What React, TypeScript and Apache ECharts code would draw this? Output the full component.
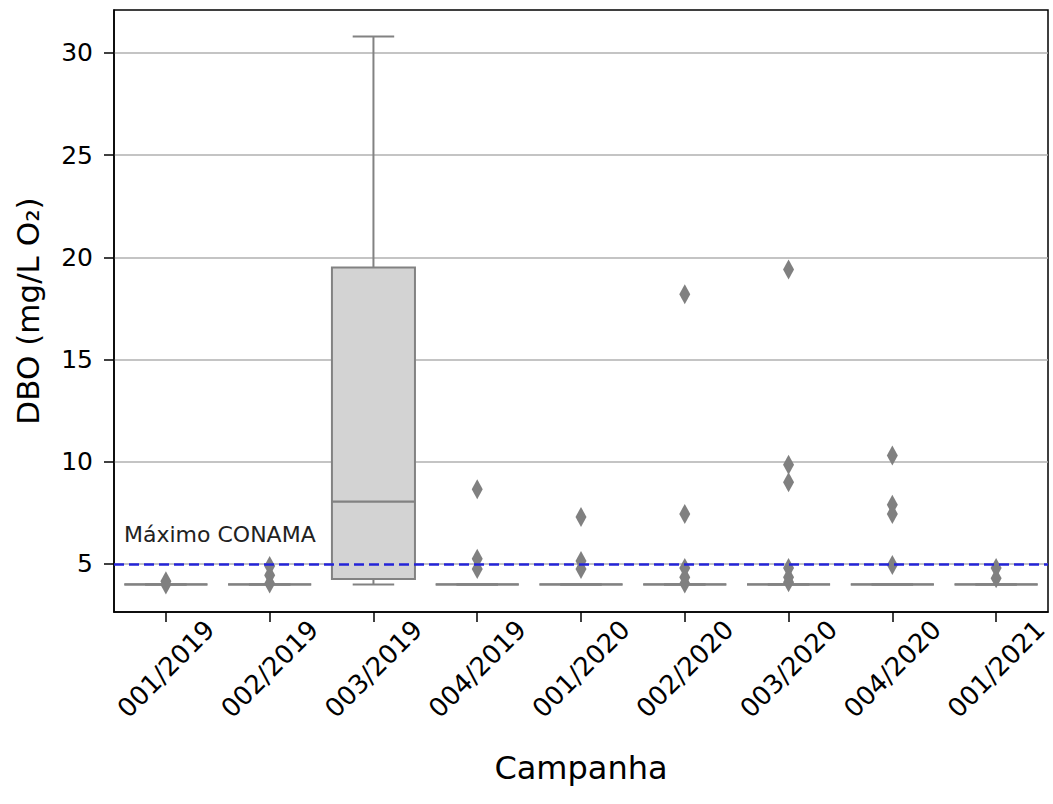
import React, { useEffect, useRef } from 'react';
import * as echarts from 'echarts';

const categories = ['001/2019', '002/2019', '003/2019', '004/2019', '001/2020', '002/2020', '003/2020', '004/2020', '001/2021'];
const whiskerLow = [4, 4, 4, 4, 4, 4, 4, 4, 4];
const q1 = [4, 4, 4.27, 4, 4, 4, 4, 4, 4];
const median = [4, 4, 8.05, 4, 4, 4, 4, 4, 4];
const q3 = [4, 4, 19.5, 4, 4, 4, 4, 4, 4];
const whiskerHigh = [4, 4, 30.8, 4, 4, 4, 4, 4, 4];

const outlierCategory = [0, 0, 1, 1, 1, 3, 3, 3, 4, 4, 4, 5, 5, 5, 5, 5, 6, 6, 6, 6, 6, 6, 7, 7, 7, 7, 8, 8];
const outlierValue = [4.15, 4.0, 4.9, 4.45, 4.05, 8.65, 5.25, 4.75, 7.3, 5.15, 4.75, 18.2, 7.45, 4.8, 4.35, 4.05, 19.4, 9.85, 9.0, 4.8, 4.35, 4.1, 10.3, 7.9, 7.45, 4.95, 4.8, 4.3];

const yTicks = [5, 10, 15, 20, 25, 30];
const yMin = 2.65;
const yMax = 32.1;
const limitValue = 5;
const limitLabel = 'Máximo CONAMA';

const BOX = '#d3d3d3';
const EDGE = '#828282';
const FONT = 'DejaVu Sans';

export default function App() {
  const ref = useRef<HTMLDivElement>(null);
  useEffect(() => {
    if (!ref.current) return;
    const chart = echarts.init(ref.current, null, { renderer: 'svg' });
    const boxData = categories.map((_, i) => [i, whiskerLow[i], q1[i], median[i], q3[i], whiskerHigh[i]]);
    const outliers = outlierCategory.map((c, i) => [c, outlierValue[i]]);
    chart.setOption({
      animation: false,
      backgroundColor: '#fff',
      grid: { left: 114, right: 5, top: 10, bottom: 192, show: true, borderColor: '#000', borderWidth: 1.5, backgroundColor: 'transparent' },
      xAxis: {
        type: 'category',
        data: categories,
        boundaryGap: true,
        name: 'Campanha',
        nameLocation: 'middle',
        nameGap: 156,
        nameTextStyle: { fontFamily: FONT, fontSize: 32, color: '#000', verticalAlign: 'middle' },
        axisLine: { show: true, lineStyle: { color: '#000', width: 1.5 } },
        axisTick: { show: true, alignWithLabel: true, length: 10, lineStyle: { color: '#000', width: 1.5 } },
        axisLabel: { rotate: 45, align: 'center', verticalAlign: 'middle', margin: 57, fontFamily: FONT, fontSize: 26, color: '#000', interval: 0 },
        splitLine: { show: false },
      },
      yAxis: {
        type: 'value',
        min: yMin,
        max: yMax,
        splitNumber: 6,
        name: 'DBO (mg/L O₂)',
        nameLocation: 'middle',
        nameGap: 86,
        nameTextStyle: { fontFamily: FONT, fontSize: 31, color: '#000', verticalAlign: 'middle' },
        axisLine: { show: true, lineStyle: { color: '#000', width: 1.5 } },
        axisTick: { show: true, inside: false, length: 10, customValues: yTicks, lineStyle: { color: '#000', width: 1.5 } },
        axisLabel: { customValues: yTicks, margin: 21, fontFamily: FONT, fontSize: 25, color: '#000' },
        splitLine: { show: true, lineStyle: { color: '#b0b0b0', width: 1.5 } },
      },
      series: [
        {
          type: 'custom',
          data: boxData,
          encode: { x: 0, y: [1, 2, 3, 4, 5] },
          renderItem: (params: any, api: any) => {
            const idx = api.value(0);
            const lo = api.coord([idx, api.value(1)]);
            const b1 = api.coord([idx, api.value(2)]);
            const md = api.coord([idx, api.value(3)]);
            const b3 = api.coord([idx, api.value(4)]);
            const hi = api.coord([idx, api.value(5)]);
            const w = api.size([1, 0])[0] * 0.8;
            const half = w / 2;
            const cx = lo[0];
            const st = { stroke: EDGE, lineWidth: 2, fill: null };
            return {
              type: 'group',
              children: [
                { type: 'line', shape: { x1: cx, y1: b1[1], x2: cx, y2: lo[1] }, style: st },
                { type: 'line', shape: { x1: cx, y1: b3[1], x2: cx, y2: hi[1] }, style: st },
                { type: 'line', shape: { x1: cx - half / 2, y1: lo[1], x2: cx + half / 2, y2: lo[1] }, style: st },
                { type: 'line', shape: { x1: cx - half / 2, y1: hi[1], x2: cx + half / 2, y2: hi[1] }, style: st },
                { type: 'rect', shape: { x: cx - half, y: b3[1], width: w, height: Math.max(b1[1] - b3[1], 0) }, style: { fill: BOX, stroke: EDGE, lineWidth: 2 } },
                { type: 'line', shape: { x1: cx - half, y1: md[1], x2: cx + half, y2: md[1] }, style: { stroke: EDGE, lineWidth: 2.2 } },
              ],
            };
          },
        },
        {
          type: 'scatter',
          data: outliers,
          symbol: 'diamond',
          symbolSize: [11, 20],
          itemStyle: { color: '#808080', opacity: 1 },
          z: 3,
          markLine: {
            silent: true,
            symbol: 'none',
            data: [{ yAxis: limitValue }],
            lineStyle: { color: '#2424d8', type: [10, 5], width: 2.5 },
            label: {
              show: true,
              position: 'insideStartTop',
              formatter: limitLabel,
              distance: [10, 18],
              fontFamily: FONT,
              fontSize: 22,
              color: '#222',
            },
          },
        },
      ],
    });
    return () => chart.dispose();
  }, []);
  return <div ref={ref} style={{ position: 'absolute', left: 0, top: 0, width: 1053, height: 804 }} />;
}
